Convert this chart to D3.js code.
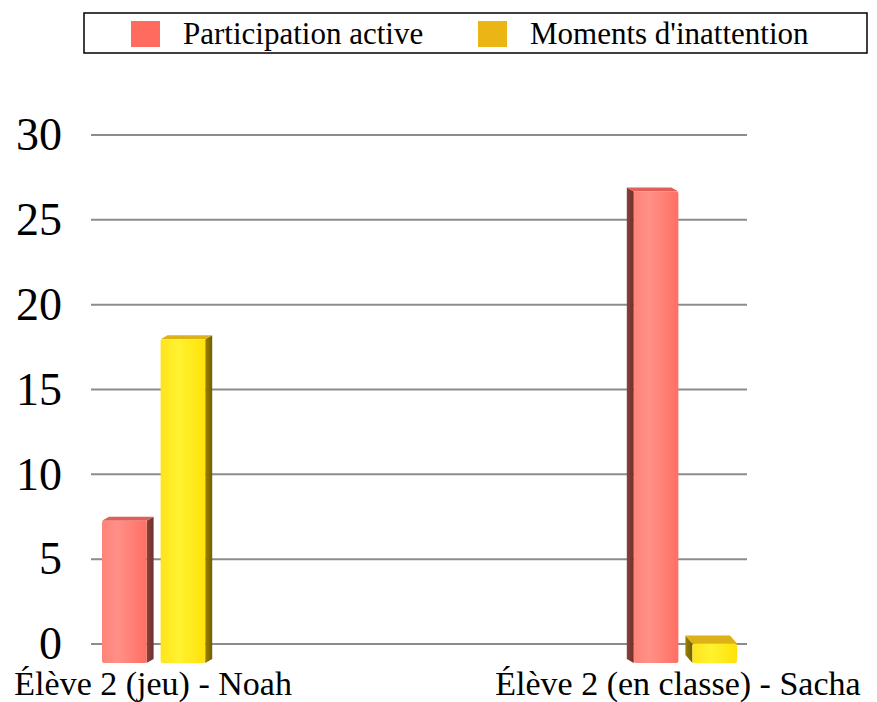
<!DOCTYPE html>
<html>
<head>
<meta charset="utf-8">
<script src="https://cdn.jsdelivr.net/npm/d3@7"></script>
<style>
  body { margin: 0; background: #fff; }
  svg text { font-family: "Liberation Serif", "DejaVu Serif", serif; }
</style>
</head>
<body>
<div id="chart"></div>
<script>
// data
var categories = ["Élève 2 (jeu) - Noah", "Élève 2 (en classe) - Sacha"];
var seriesNames = ["Participation active", "Moments d'inattention"];
var participation = [7.5, 26.9];
var inattention = [18.2, 0.5];
var yTicks = [0, 5, 10, 15, 20, 25, 30];

var W = 877, H = 702;
var BASE = 30; // text drawn at this size, then scaled up
var svg = d3.select("#chart").append("svg")
    .attr("width", W).attr("height", H);

var defs = svg.append("defs");
function grad(id, stops) {
    var g = defs.append("linearGradient").attr("id", id)
        .attr("x1", "0%").attr("x2", "100%").attr("y1", "0%").attr("y2", "0%");
    stops.forEach(function (s) {
        g.append("stop").attr("offset", s[0]).attr("stop-color", s[1]);
    });
}
grad("redFront", [["0%", "#ff8379"], ["35%", "#ff9088"], ["100%", "#ff6f63"]]);
grad("yelFront", [["0%", "#ffe41c"], ["40%", "#fff230"], ["100%", "#ffe20a"]]);
grad("redSide", [["0%", "#8c403a"], ["100%", "#6e302b"]]);
grad("yelSide", [["0%", "#9a8200"], ["100%", "#6f5e00"]]);

var colors = {
    front: ["url(#redFront)", "url(#yelFront)"],
    side: ["url(#redSide)", "url(#yelSide)"],
    top: ["#e06058", "#dcb216"],
    legend: ["#ff6b5e", "#ebb516"]
};

var y = d3.scaleLinear().domain([0, 30]).range([644, 135]);
var x0 = d3.scaleBand().domain(categories).range([102, 737])
    .paddingInner(0.79).paddingOuter(0);
var x1 = d3.scaleBand().domain(seriesNames).range([0, x0.bandwidth()])
    .paddingInner(0.12);

// grid lines
svg.append("g").selectAll("line").data(yTicks).enter().append("line")
    .attr("x1", 91).attr("x2", 747)
    .attr("y1", d => y(d)).attr("y2", d => y(d))
    .attr("stroke", "#8c8c8c").attr("stroke-width", 2);

// y axis labels (scaled text)
var tk = 46 / BASE;
svg.append("g").selectAll("text").data(yTicks).enter().append("text")
    .attr("transform", d => "translate(62," + (y(d) + 0.33 * 46) + ") scale(" + tk + ")")
    .attr("text-anchor", "end")
    .attr("font-size", BASE)
    .text(d => d);

// bars (pseudo 3d)
var floorY = y(0) + 19;
var rows = [];
categories.forEach(function (c, ci) {
    rows.push({ cat: c, s: 0, v: participation[ci], ci: ci });
    rows.push({ cat: c, s: 1, v: inattention[ci], ci: ci });
});

var bars = svg.append("g").selectAll("g").data(rows).enter().append("g");
bars.each(function (d) {
    var g = d3.select(this);
    var bx = x0(d.cat) + x1(seriesNames[d.s]);
    var bw = x1.bandwidth();
    var dx = d.ci === 0 ? 7 : -7;
    var dy = d.v < 2 ? 8 : 4;
    var top = y(d.v) + dy;
    var fx0 = dx > 0 ? bx : bx - dx;
    var fx1 = dx > 0 ? bx + bw - dx : bx + bw;
    var sideX = dx > 0 ? fx1 : fx0;
    g.append("path")
        .attr("d", "M" + sideX + "," + top +
            "L" + (sideX + dx) + "," + (top - dy) +
            "L" + (sideX + dx) + "," + (floorY - dy) +
            "L" + sideX + "," + floorY + "Z")
        .attr("fill", colors.side[d.s]);
    g.append("path")
        .attr("d", "M" + fx0 + "," + top +
            "L" + (fx0 + dx) + "," + (top - dy) +
            "L" + (fx1 + dx) + "," + (top - dy) +
            "L" + fx1 + "," + top + "Z")
        .attr("fill", colors.top[d.s]);
    g.append("rect")
        .attr("x", fx0).attr("y", top)
        .attr("width", fx1 - fx0).attr("height", floorY - top)
        .attr("rx", 2)
        .attr("fill", colors.front[d.s]);
});

// category labels (scaled text)
var ck = 34 / BASE;
svg.append("g").selectAll("text").data(categories).enter().append("text")
    .attr("transform", d => "translate(" + (x0(d) + x0.bandwidth() / 2 - 4) + ",695) scale(" + ck + ")")
    .attr("text-anchor", "middle")
    .attr("font-size", BASE)
    .text(d => d);

// legend
var lg = svg.append("g");
lg.append("rect").attr("x", 84).attr("y", 13).attr("width", 783).attr("height", 40)
    .attr("fill", "#fff").attr("stroke", "#000").attr("stroke-width", 1.5);
var legX = [131, 478];
seriesNames.forEach(function (s, i) {
    lg.append("rect").attr("x", legX[i]).attr("y", 21).attr("width", 29).attr("height", 26)
        .attr("fill", colors.legend[i]);
    lg.append("text").attr("x", legX[i] + 52).attr("y", 44)
        .attr("font-size", 31).text(s);
});
</script>
</body>
</html>
